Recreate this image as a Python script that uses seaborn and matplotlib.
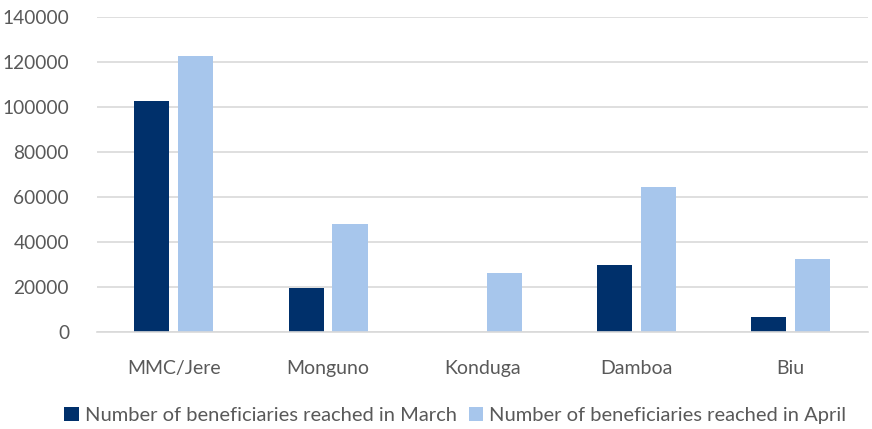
import matplotlib
matplotlib.use("Agg")
import matplotlib.pyplot as plt
import seaborn as sns
import pandas as pd

categories = ["MMC/Jere", "Monguno", "Konduga", "Damboa", "Biu"]
march = [102900, 19400, 0, 29800, 6500]
april = [122800, 48000, 26400, 64600, 32500]
series_names = ["Number of beneficiaries reached in March",
                "Number of beneficiaries reached in April"]
yticks = [0, 20000, 40000, 60000, 80000, 100000, 120000, 140000]

df = pd.DataFrame({
    "District": categories * 2,
    "Value": march + april,
    "Series": [series_names[0]] * len(categories) + [series_names[1]] * len(categories),
})

sns.set_theme(style="white")
plt.rcParams["font.family"] = ["Lato", "DejaVu Sans"]

fig = plt.figure(figsize=(8.72, 4.29), dpi=100)
ax = fig.add_axes([0.111, 0.226, 0.884, 0.734])

palette = {series_names[0]: "#00306B", series_names[1]: "#A7C6EC"}
sns.barplot(data=df, x="District", y="Value", hue="Series", palette=palette,
            width=0.57, gap=0.2, ax=ax, saturation=1, legend=True, linewidth=0)

ax.set_ylim(0, 140000)
ax.set_yticks(yticks)
ax.set_yticklabels([str(t) for t in yticks])
ax.set_xlabel("")
ax.set_ylabel("")
ax.yaxis.grid(True, color="#D9D9D9", linewidth=1.2)
ax.set_axisbelow(True)
for s in ["top", "right", "left"]:
    ax.spines[s].set_visible(False)
ax.spines["bottom"].set_color("#D9D9D9")
ax.spines["bottom"].set_linewidth(1.2)
ax.tick_params(axis="y", length=0, pad=20, labelsize=13.8, labelcolor="#595959")
ax.tick_params(axis="x", length=0, pad=20, labelsize=14, labelcolor="#595959")
ax.set_xlim(-0.5, len(categories) - 0.5)

handles, labels = ax.get_legend_handles_labels()
ax.get_legend().remove()
fig.legend(handles, labels, loc="lower center", bbox_to_anchor=(0.522, -0.03),
           ncol=2, frameon=False, fontsize=14.5, labelcolor="#595959",
           handlelength=0.7, handleheight=0.7, handletextpad=0.3, columnspacing=0.6)

fig.savefig("out.png", dpi=100)
